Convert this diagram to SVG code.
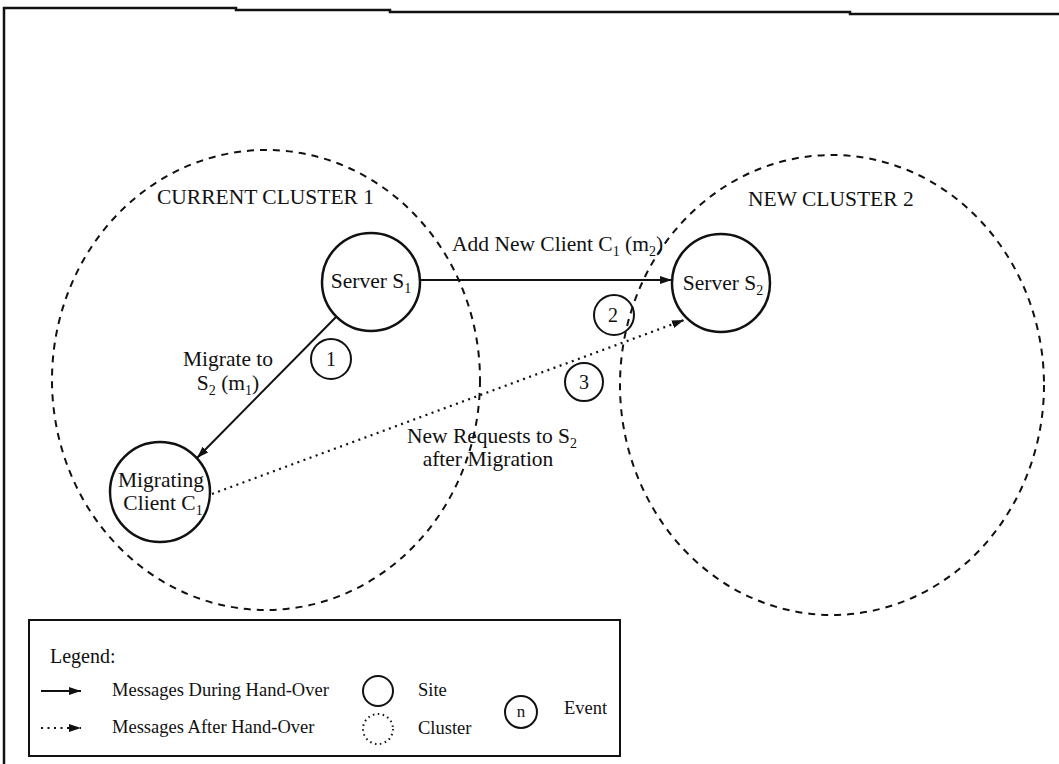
<svg xmlns="http://www.w3.org/2000/svg" width="1059" height="764" viewBox="0 0 1059 764">
  <defs>
    <marker id="arrow" viewBox="0 0 12 8" refX="12" refY="4" markerWidth="12" markerHeight="8" markerUnits="userSpaceOnUse" orient="auto">
      <path d="M0,0 L12,4 L0,8 Z" fill="#111"/>
    </marker>
    <style>
      text { font-family: "Liberation Serif", "Times New Roman", serif; fill: #111; }
      .lbl { font-size: 21.5px; }
      .leg { font-size: 18.5px; }
      .num { font-size: 20px; text-anchor: middle; }
      .site { fill: #fff; stroke: #111; stroke-width: 2.5; }
      .event { fill: none; stroke: #111; stroke-width: 2; }
      .cluster { fill: none; stroke: #111; stroke-width: 2; stroke-dasharray: 7 6; }
      .msg { fill: none; stroke: #111; stroke-width: 2; }
      .after { fill: none; stroke: #111; stroke-width: 2.2; stroke-dasharray: 2 4.5; }
      .frame { fill: none; stroke: #111; stroke-width: 2.5; }
      .sub { font-size: 65%; }
    </style>
  </defs>

  <rect x="0" y="0" width="1059" height="764" fill="#fff"/>

  <!-- page frame -->
  <polyline class="frame" points="4,764 4,8 236,8 236,10 390,10 390,12 850,12 850,14 1059,14"/>

  <!-- clusters -->
  <g id="cluster-1">
    <ellipse class="cluster" cx="266" cy="380" rx="214" ry="230"/>
    <text class="lbl" x="157" y="204">CURRENT CLUSTER 1</text>
  </g>
  <g id="cluster-2">
    <ellipse class="cluster" cx="832" cy="385" rx="212" ry="230"/>
    <text class="lbl" x="748" y="206">NEW CLUSTER 2</text>
  </g>

  <!-- messages -->
  <g id="connectors">
    <line class="msg" x1="420" y1="280" x2="672" y2="280" marker-end="url(#arrow)"/>
    <line class="msg" x1="336" y1="317" x2="197" y2="458" marker-end="url(#arrow)"/>
    <line class="after" x1="212" y1="494" x2="684" y2="320" marker-end="url(#arrow)"/>
    <text class="lbl" x="452" y="251">Add New Client C<tspan class="sub" dy="5">1</tspan><tspan dy="-5"> (m</tspan><tspan class="sub" dy="5">2</tspan><tspan dy="-5">)</tspan></text>
    <text class="lbl" x="228" y="366" text-anchor="middle">Migrate to</text>
    <text class="lbl" x="228" y="390" text-anchor="middle">S<tspan class="sub" dy="5">2</tspan><tspan dy="-5"> (m</tspan><tspan class="sub" dy="5">1</tspan><tspan dy="-5">)</tspan></text>
    <text class="lbl" x="492" y="443" text-anchor="middle">New Requests to S<tspan class="sub" dy="5">2</tspan></text>
    <text class="lbl" x="488" y="466" text-anchor="middle">after Migration</text>
  </g>

  <!-- sites -->
  <g id="server-s1">
    <circle class="site" cx="371" cy="282" r="49"/>
    <text class="lbl" x="371" y="288" text-anchor="middle">Server S<tspan class="sub" dy="5">1</tspan></text>
  </g>
  <g id="server-s2">
    <circle class="site" cx="721" cy="283" r="49"/>
    <text class="lbl" x="723" y="290" text-anchor="middle">Server S<tspan class="sub" dy="5">2</tspan></text>
  </g>
  <g id="client-c1">
    <circle class="site" cx="160" cy="492" r="50"/>
    <text class="lbl" x="161" y="487" text-anchor="middle" font-size="23">Migrating</text>
    <text class="lbl" x="163" y="510" text-anchor="middle" font-size="23">Client C<tspan class="sub" dy="5">1</tspan></text>
  </g>

  <!-- events -->
  <g id="event-1">
    <circle class="event" cx="331" cy="359" r="20"/>
    <text class="num" x="331" y="366">1</text>
  </g>
  <g id="event-2">
    <circle class="event" cx="614" cy="315" r="20"/>
    <text class="num" x="613" y="322">2</text>
  </g>
  <g id="event-3">
    <circle class="event" cx="584" cy="382" r="19"/>
    <text class="num" x="584" y="389">3</text>
  </g>

  <!-- legend -->
  <g id="legend">
    <rect x="29" y="620" width="591" height="136" fill="#fff" stroke="#111" stroke-width="2"/>
    <text x="50" y="663" font-size="20">Legend:</text>
    <line class="msg" x1="41" y1="691" x2="81" y2="691" marker-end="url(#arrow)"/>
    <text class="leg" x="112" y="696">Messages During Hand-Over</text>
    <line class="after" x1="41" y1="728" x2="81" y2="728" marker-end="url(#arrow)"/>
    <text class="leg" x="112" y="733">Messages After Hand-Over</text>
    <circle cx="378" cy="691" r="15" fill="none" stroke="#111" stroke-width="2"/>
    <text class="leg" x="418" y="696">Site</text>
    <circle cx="378" cy="729" r="15" fill="none" stroke="#111" stroke-width="2" stroke-dasharray="1.5 3.5"/>
    <text class="leg" x="418" y="734">Cluster</text>
    <circle cx="521" cy="712" r="16" fill="none" stroke="#111" stroke-width="2"/>
    <text x="521" y="717" font-size="17" text-anchor="middle">n</text>
    <text class="leg" x="564" y="714">Event</text>
  </g>
</svg>
